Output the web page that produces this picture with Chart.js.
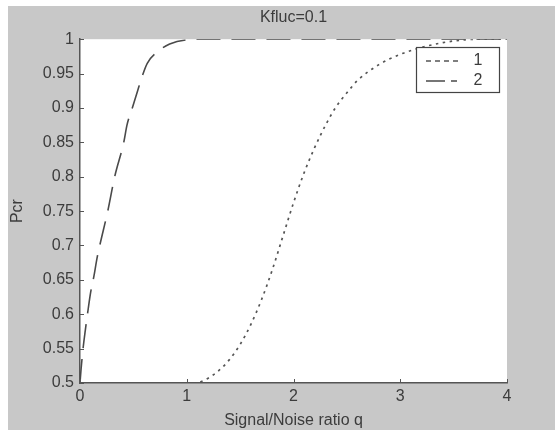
<!DOCTYPE html>
<html><head><meta charset="utf-8">
<script src="https://cdn.jsdelivr.net/npm/chart.js@4/dist/chart.umd.min.js"></script>
<style>html,body{margin:0;padding:0;background:#fff;overflow:hidden}#c{display:block}</style>
</head><body>
<canvas id="c" width="555" height="430"></canvas>
<script>
// ---- data ----
const chartTitle = 'Kfluc=0.1';
const xAxisTitle = 'Signal/Noise ratio q';
const yAxisTitle = 'Pcr';
const seriesNames = ['1', '2'];
const q1   = [1.0, 1.1, 1.2, 1.3, 1.4, 1.5, 1.6, 1.7, 1.8, 1.9, 2.0, 2.1, 2.2, 2.3, 2.4, 2.5, 2.6, 2.8, 3.0, 3.2, 3.4, 3.6, 3.8, 4.0];
const pcr1 = [0.497, 0.5, 0.507, 0.518, 0.534, 0.556, 0.585, 0.621, 0.664, 0.713, 0.762, 0.806, 0.843, 0.875, 0.902, 0.922, 0.94, 0.963, 0.978, 0.988, 0.995, 0.999, 1.0, 1.0];
const q2   = [0, 0.01, 0.03, 0.05, 0.07, 0.1, 0.13, 0.16, 0.185, 0.26, 0.325, 0.41, 0.44, 0.49, 0.54, 0.58, 0.63, 0.72, 0.84, 1.0, 1.2, 1.5, 2.0, 3.0, 4.0];
const pcr2 = [0.50, 0.52, 0.552, 0.577, 0.60, 0.632, 0.655, 0.682, 0.70, 0.75, 0.80, 0.85, 0.875, 0.90, 0.925, 0.945, 0.965, 0.981, 0.993, 0.999, 1.0, 1.0, 1.0, 1.0, 1.0];
const xTicks = [0, 1, 2, 3, 4];
const yTicks = [0.5, 0.55, 0.6, 0.65, 0.7, 0.75, 0.8, 0.85, 0.9, 0.95, 1];

const FONT = '"Liberation Sans", Arial, sans-serif';
const TXT = '#3c3c3c';
const AXIS = '#555';

const toPts = (xs, ys) => xs.map((x, i) => ({x: x, y: ys[i]}));

const bgPlugin = {
  id: 'bg',
  beforeDraw(chart) {
    const ctx = chart.ctx, a = chart.chartArea;
    ctx.save();
    ctx.fillStyle = '#ffffff';
    ctx.fillRect(0, 0, chart.width, chart.height);
    ctx.fillStyle = '#c8c8c8';
    ctx.fillRect(8, 6, chart.width - 8, chart.height - 6);
    ctx.fillStyle = '#ffffff';
    ctx.fillRect(a.left, a.top, a.right - a.left, a.bottom - a.top);
    ctx.restore();
  }
};

const tickPlugin = {
  id: 'inTicks',
  afterDraw(chart) {
    const ctx = chart.ctx, a = chart.chartArea;
    const xs = chart.scales.x, ys = chart.scales.y;
    ctx.save();
    ctx.strokeStyle = AXIS;
    ctx.lineWidth = 1;
    ctx.beginPath();
    xTicks.forEach(v => {
      const px = Math.round(xs.getPixelForValue(v)) + 0.5;
      ctx.moveTo(px, a.bottom); ctx.lineTo(px, a.bottom - 4);
    });
    yTicks.forEach(v => {
      const py = Math.round(ys.getPixelForValue(v)) + 0.5;
      ctx.moveTo(a.left, py); ctx.lineTo(a.left + 4, py);
    });
    ctx.stroke();
    // legend box
    const bx = 416, by = 47, bw = 83, bh = 45;
    ctx.fillStyle = '#ffffff';
    ctx.fillRect(bx, by, bw, bh);
    ctx.strokeStyle = '#444';
    ctx.lineWidth = 1.2;
    ctx.strokeRect(bx + 0.5, by + 0.5, bw, bh);
    chart.data.datasets.forEach((ds, i) => {
      const y = by + 14 + i * 20;
      ctx.save();
      ctx.strokeStyle = ds.borderColor;
      ctx.lineWidth = ds.borderWidth;
      ctx.setLineDash(ds.legendDash || ds.borderDash);
      ctx.beginPath();
      ctx.moveTo(426, y); ctx.lineTo(461, y);
      ctx.stroke();
      ctx.restore();
      ctx.fillStyle = TXT;
      ctx.font = '16px ' + FONT;
      ctx.textAlign = 'center';
      ctx.textBaseline = 'middle';
      ctx.fillText(ds.label, 478, y);
    });
    ctx.restore();
  }
};

new Chart(document.getElementById('c'), {
  type: 'line',
  data: {
    datasets: [
      {
        label: seriesNames[0],
        data: toPts(q1, pcr1),
        borderColor: '#555555',
        borderWidth: 1.7,
        borderDash: [2.5, 4.5],
        legendDash: [5, 4],
        pointRadius: 0,
        fill: false,
        cubicInterpolationMode: 'monotone'
      },
      {
        label: seriesNames[1],
        data: toPts(q2, pcr2),
        borderColor: '#4a4a4a',
        borderWidth: 1.6,
        borderDash: [24, 11],
        legendDash: [19, 6, 6, 20],
        pointRadius: 0,
        fill: false,
        cubicInterpolationMode: 'monotone'
      }
    ]
  },
  options: {
    responsive: false,
    animation: false,
    devicePixelRatio: 1,
    layout: {padding: {top: 6, left: 8, right: 48, bottom: 0}},
    plugins: {
      legend: {display: false},
      tooltip: {enabled: false},
      title: {
        display: true,
        text: chartTitle,
        fullSize: false,
        color: TXT,
        font: {family: FONT, size: 16, weight: 'normal'},
        padding: {top: 2, bottom: 12}
      }
    },
    scales: {
      x: {
        type: 'linear',
        min: 0, max: 4,
        afterFit: s => { s.height = 47; },
        afterBuildTicks: s => { s.ticks = xTicks.map(v => ({value: v})); },
        grid: {display: true, drawOnChartArea: false, drawTicks: false},
        border: {display: true, color: AXIS, width: 1.5},
        ticks: {color: TXT, font: {family: FONT, size: 16}, padding: 4, maxRotation: 0, callback: v => String(v)},
        title: {display: true, text: xAxisTitle, color: TXT, font: {family: FONT, size: 16}, padding: {top: 0, bottom: 0}}
      },
      y: {
        type: 'linear',
        min: 0.5, max: 1,
        afterFit: s => { s.width = 72; },
        afterBuildTicks: s => { s.ticks = yTicks.map(v => ({value: v})); },
        grid: {display: true, drawOnChartArea: false, drawTicks: false},
        border: {display: true, color: AXIS, width: 1.5},
        ticks: {color: TXT, font: {family: FONT, size: 16}, padding: 6, callback: v => String(+v.toFixed(2))},
        title: {display: true, text: yAxisTitle, color: TXT, font: {family: FONT, size: 16}, padding: {top: 0, bottom: 0}}
      }
    }
  },
  plugins: [bgPlugin, tickPlugin]
});
</script>
</body></html>
